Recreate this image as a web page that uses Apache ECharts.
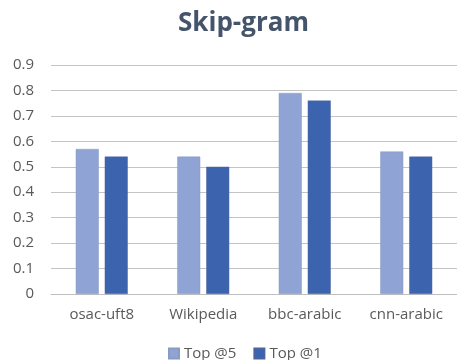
<!DOCTYPE html>
<html><head><meta charset="utf-8">
<script src="https://cdn.jsdelivr.net/npm/echarts@6/dist/echarts.min.js"></script>
<style>html,body{margin:0;padding:0;background:#fff;}#c{width:457px;height:360px;}</style>
</head><body><div id="c"></div>
<script>
const categories = ['osac-uft8', 'Wikipedia', 'bbc-arabic', 'cnn-arabic'];
const top5 = [0.57, 0.54, 0.79, 0.56];
const top1 = [0.54, 0.50, 0.76, 0.54];
const seriesNames = ['Top @5', 'Top @1'];
const font = '"Open Sans", Lato, sans-serif';
const chart = echarts.init(document.getElementById('c'));
chart.setOption({
  animation: false,
  backgroundColor: '#fff',
  title: {
    text: 'Skip-gram', left: 173, top: 6,
    textStyle: { fontFamily: font, fontWeight: 'bold', fontSize: 26, color: '#44546A' }
  },
  legend: {
    data: seriesNames, left: 163, top: 341, itemWidth: 10, itemHeight: 10, itemGap: 17,
    icon: 'rect',
    textStyle: { fontFamily: font, fontSize: 15, color: '#595959' }
  },
  grid: { left: 51, top: 65, width: 412, bottom: 66, containLabel: false },
  xAxis: {
    type: 'category', data: categories,
    axisLine: { lineStyle: { color: '#BFBFBF' } },
    axisTick: { show: false },
    axisLabel: { fontFamily: font, fontSize: 15, color: '#595959', margin: 13 }
  },
  yAxis: {
    type: 'value', min: 0, max: 0.9, interval: 0.1,
    axisLabel: { fontFamily: font, fontSize: 15, color: '#595959', margin: 17,
      formatter: v => String(Math.round(v * 10) / 10) },
    splitLine: { lineStyle: { color: '#C4C4C4' } },
    axisLine: { show: false }, axisTick: { show: false }
  },
  series: [
    { name: seriesNames[0], type: 'bar', data: top5, barWidth: 23, barGap: '26%',
      itemStyle: { color: '#8FA4D4', borderColor: '#8A9BC0', borderWidth: 0.5 } },
    { name: seriesNames[1], type: 'bar', data: top1, barWidth: 23,
      itemStyle: { color: '#3C64AE', borderColor: '#4A64A0', borderWidth: 0.5 } }
  ]
});
</script></body></html>
